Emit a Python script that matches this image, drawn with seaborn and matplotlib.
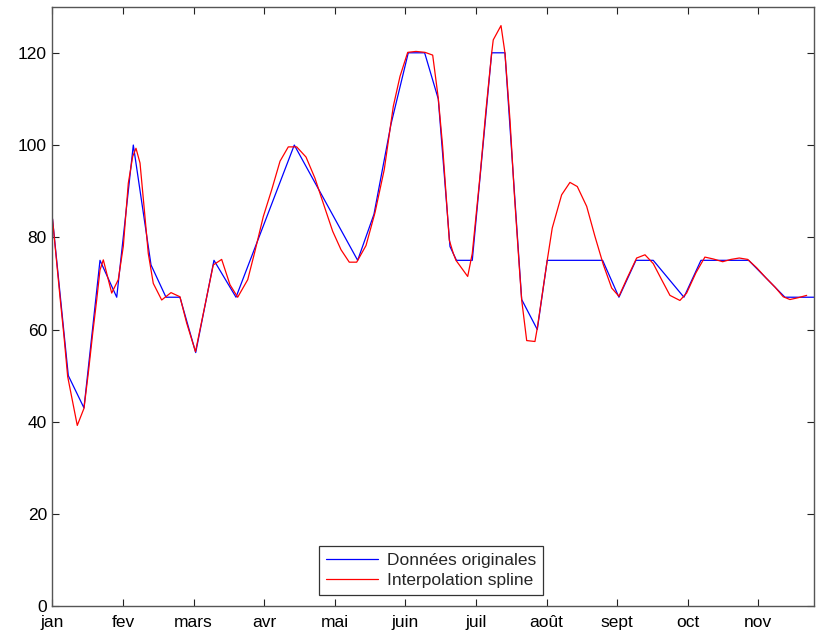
import matplotlib
matplotlib.use("Agg")
import matplotlib.pyplot as plt
import seaborn as sns
import pandas as pd

# x positions are in month units (0 = jan, 1 = fev, ...)
month_labels = ["jan", "fev", "mars", "avr", "mai", "juin", "juil", "août", "sept", "oct", "nov"]

orig_x = [0.00, 0.224, 0.446, 0.673, 0.910, 1.145, 1.396, 1.608, 1.806, 2.029,
          2.288, 2.600, 3.426, 4.324, 4.555, 4.796, 5.041, 5.273, 5.466, 5.632,
          5.724, 5.948, 6.223, 6.411, 6.648, 6.869, 7.010, 7.795, 8.026, 8.267,
          8.512, 8.947, 9.188, 9.864, 10.378, 10.789]
orig_y = [84, 50, 43, 75, 67, 100, 74, 67, 67, 55,
          75, 67, 100, 75, 85, 104.5, 120, 120, 110, 78,
          75, 75, 120, 120, 66.5, 60, 75, 75, 67, 75,
          75, 67, 75, 75, 67, 67]

spline_x = [0.000, 0.106, 0.163, 0.215, 0.351, 0.446, 0.507, 0.570, 0.626, 0.673,
            0.720, 0.839, 0.932, 1.003, 1.074, 1.136, 1.183, 1.240, 1.301, 1.357,
            1.428, 1.547, 1.679, 1.806, 1.901, 2.026, 2.278, 2.397, 2.515, 2.624,
            2.766, 2.869, 2.987, 3.106, 3.224, 3.341, 3.460, 3.592, 3.719, 3.847,
            3.970, 4.088, 4.205, 4.310, 4.442, 4.569, 4.701, 4.829, 4.924, 5.033,
            5.150, 5.278, 5.387, 5.466, 5.528, 5.575, 5.622, 5.679, 5.717, 5.883,
            5.948, 6.057, 6.142, 6.223, 6.245, 6.355, 6.411, 6.482, 6.543, 6.614,
            6.648, 6.719, 6.836, 6.869, 7.010, 7.081, 7.214, 7.332, 7.436, 7.569,
            7.686, 7.804, 7.923, 8.026, 8.144, 8.277, 8.395, 8.512, 8.631, 8.749,
            8.890, 8.985, 9.117, 9.244, 9.362, 9.496, 9.613, 9.731, 9.850, 9.977,
            10.109, 10.237, 10.354, 10.449, 10.567, 10.686]
spline_y = [84.0, 67.1, 58.5, 49.8, 39.2, 42.9, 50.5, 59.2, 66.4, 72.9,
            75.1, 67.9, 70.8, 78.0, 91.7, 97.5, 99.3, 96.1, 86.0, 76.5,
            70.0, 66.4, 68.0, 67.1, 61.4, 55.2, 74.0, 75.2, 69.7, 67.0,
            70.8, 77.0, 84.5, 90.3, 96.5, 99.6, 99.6, 97.4, 92.8, 86.9,
            81.3, 77.3, 74.6, 74.6, 78.2, 85.3, 94.7, 108.4, 114.9, 120.1,
            120.3, 120.1, 119.5, 110.2, 99.7, 89.6, 79.4, 76.5, 75.0, 71.5,
            76.5, 93.2, 107.6, 120.0, 122.8, 125.9, 120.0, 105.5, 89.6, 73.6,
            66.4, 57.6, 57.4, 60.3, 75.0, 82.0, 89.2, 91.9, 91.0, 86.7,
            80.2, 74.1, 69.0, 67.2, 71.2, 75.5, 76.2, 74.3, 70.8, 67.4,
            66.3, 67.9, 72.3, 75.7, 75.3, 74.7, 75.2, 75.5, 75.2, 73.4,
            71.2, 69.2, 67.1, 66.5, 66.9, 67.4]

y_ticks = [0, 20, 40, 60, 80, 100, 120]

sns.set_theme(style="white")
plt.rcParams["font.family"] = ["Liberation Sans", "DejaVu Sans"]

fig = plt.figure(figsize=(8.19, 6.31), dpi=100)
ax = fig.add_axes([0.0641, 0.0393, 0.9298, 0.9501])

df_o = pd.DataFrame({"x": orig_x, "y": orig_y})
df_s = pd.DataFrame({"x": spline_x, "y": spline_y})
sns.lineplot(data=df_o, x="x", y="y", ax=ax, color=(0, 0, 1), lw=0.9,
             sort=False, estimator=None, label="Données originales")
sns.lineplot(data=df_s, x="x", y="y", ax=ax, color=(1, 0, 0), lw=0.9,
             sort=False, estimator=None, label="Interpolation spline")

ax.set_xlim(0, 10.79)
ax.set_ylim(0, 130)
ax.set_xticks(range(len(month_labels)))
ax.set_xticklabels(month_labels)
ax.set_yticks(y_ticks)
ax.set_xlabel("")
ax.set_ylabel("")
ax.tick_params(direction="in", length=5, width=0.8, color="#222222",
               top=True, right=True, bottom=True, left=True,
               labelsize=12.5, labelcolor="black", pad=4)
ax.tick_params(axis="x", pad=6)
for sp in ax.spines.values():
    sp.set_visible(True)
    sp.set_color("#555555")
    sp.set_linewidth(1.0)
ax.grid(False)

leg = ax.legend(loc="lower center", bbox_to_anchor=(0.4976, 0.0187),
                borderaxespad=0, fontsize=12.5, frameon=True, fancybox=False,
                edgecolor="black", handlelength=3.0, handletextpad=0.5,
                labelspacing=0.3, borderpad=0.4)
leg.get_frame().set_linewidth(0.9)
leg.get_frame().set_facecolor("white")

fig.savefig("out.png", dpi=100)
